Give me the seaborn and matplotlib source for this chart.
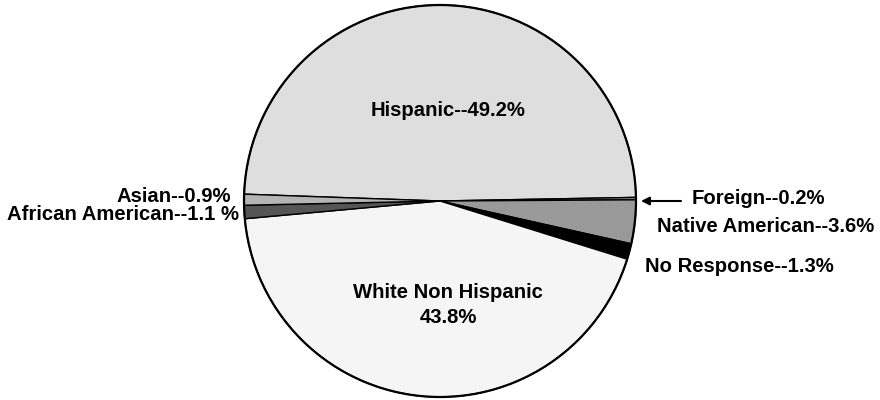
import matplotlib
matplotlib.use("Agg")
import matplotlib.pyplot as plt
import seaborn as sns

# data
categories = ["Hispanic", "Foreign", "Native American", "No Response",
              "White Non Hispanic", "African American", "Asian"]
values = [49.2, 0.2, 3.6, 1.3, 43.8, 1.1, 0.9]
colors = ["#dedede", "#8c8c8c", "#999999", "#000000", "#f5f5f5", "#555555", "#b4b4b4"]

sns.set_theme(style="white")
plt.rcParams['font.family'] = ['Liberation Sans', 'DejaVu Sans']

fig = plt.figure(figsize=(8.8, 4.0), dpi=100)
ax = fig.add_axes([0, 0, 1, 1])

H = 400
cx, cy, r = 440, 201, 196

wedges, _ = ax.pie(values, colors=colors, startangle=178, counterclock=False,
                   center=(cx, H - cy), radius=r,
                   wedgeprops=dict(edgecolor="black", linewidth=1.0))
# outer outline
circle = plt.Circle((cx, H - cy), r, fill=False, edgecolor="black", linewidth=1.6)
ax.add_patch(circle)

ax.set_xlim(0, 880)
ax.set_ylim(0, H)
ax.set_aspect("equal")
ax.axis("off")

fs = 14.6
kw = dict(fontsize=fs, fontweight="bold", color="black")
ax.text(448, H - 110, "Hispanic--49.2%", ha="center", va="center", **kw)
ax.text(448, H - 305, "White Non Hispanic\n43.8%", ha="center", va="center",
        linespacing=1.4, **kw)
ax.text(231, H - 196, "Asian--0.9%", ha="right", va="center", **kw)
ax.text(239, H - 214, "African American--1.1 %", ha="right", va="center", **kw)
ax.text(692, H - 199, "Foreign--0.2%", ha="left", va="center", **kw)
ax.text(657, H - 227, "Native American--3.6%", ha="left", va="center", **kw)
ax.text(645, H - 266, "No Response--1.3%", ha="left", va="center", **kw)
ax.annotate("", xy=(641, H - 201), xytext=(681, H - 201),
            arrowprops=dict(arrowstyle="-|>", color="black", lw=1.5,
                            mutation_scale=12, shrinkA=0, shrinkB=0))

fig.savefig("out.png", dpi=100)
